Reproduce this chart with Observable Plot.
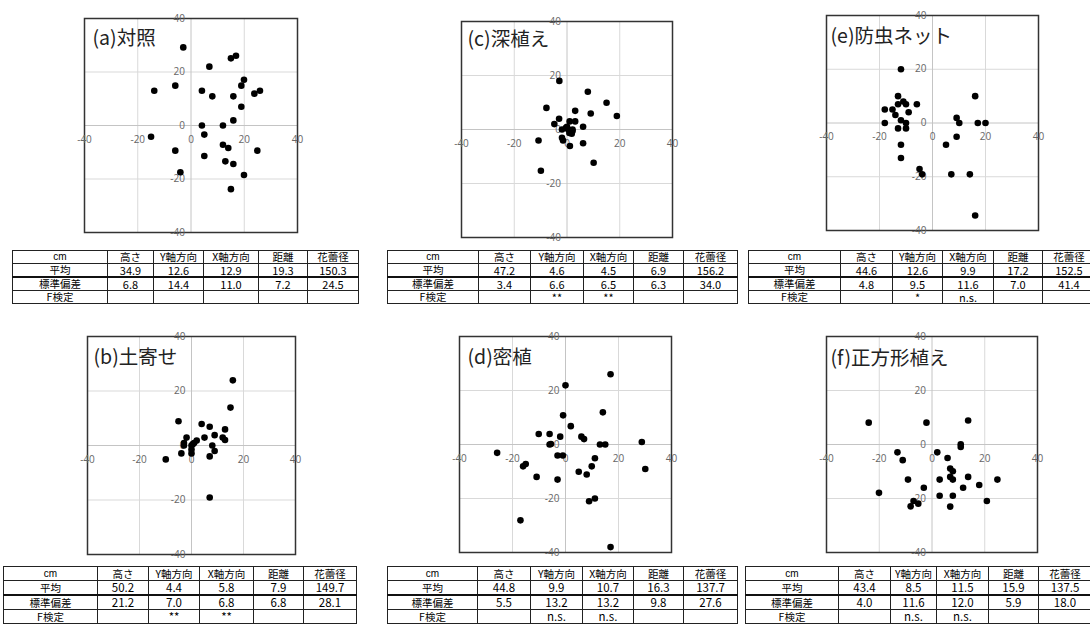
<!DOCTYPE html>
<html><head><meta charset="utf-8">
<script src="https://cdn.jsdelivr.net/npm/d3@7"></script>
<script src="https://cdn.jsdelivr.net/npm/@observablehq/plot@0.6"></script>
<style>
body{margin:0;background:#fff;}
#root{position:relative;width:1090px;height:625px;overflow:hidden;background:#fff;font-family:"Noto Sans CJK JP",sans-serif;}
.panel{position:absolute;}
.panel svg{display:block;overflow:visible;}
table.st{position:absolute;border-collapse:collapse;table-layout:fixed;font-family:"Liberation Sans Narrow","Noto Sans CJK JP",sans-serif;font-size:11px;color:#000;}
table.st td{border:1px solid #222;padding:0;height:12px;line-height:12px;text-align:center;white-space:nowrap;vertical-align:middle;}
table.st.tall td{height:13px;line-height:13px;font-size:11.5px;}
table.st tr.mean td{border-bottom:2px solid #111;}
table.st td.jp{font-family:"Noto Sans CJK JP",sans-serif;font-size:10.5px;}
table.st td.cm{font-family:"Liberation Sans",sans-serif;font-size:10px;}
</style></head><body><div id="root"></div>
<script>
// ---- data ----
const panelTitles = ["(a)対照","(b)土寄せ","(c)深植え","(d)密植","(e)防虫ネット","(f)正方形植え"];
const tickVals = [-40,-20,0,20,40];
const gridVals = [-20,20];

const xA = [-2.9,15,16.9,6.9,19.9,18.9,23.8,25.9,-13.8,-5.9,4.1,8,15.9,18.9,15.9,4.1,12,-15,5,12,14,24.9,-5.9,5,12.9,15.9,-4,19.9,15];
const yA = [29.2,25.1,26.1,22,17.1,14.9,11.9,13,13,14.9,13,10.9,10.9,7,1.9,0,0,-4.2,-3.4,-7.2,-8.4,-9.4,-9.4,-11.4,-13.4,-14.4,-17.5,-18.5,-23.8];

const xB = [15.9,15,-5,3.9,7,12.9,8.9,12,12.9,5,-1.9,2,1,-2.9,-2.9,0,8,0,0,-3.9,8.9,7,-9.9,7,0.5];
const yB = [23.9,13.9,8.9,7.9,6.9,5.9,3.8,2.9,2,2.9,2.9,1.8,0.9,0.9,0,0,0,-1.5,-2.9,-2.9,-2,-4,-5.1,-19.1,0.5];

const xC = [-2.9,7.9,15,-7.8,3.1,9,18.9,-3,-4.8,1,3.1,6.1,0,-1.9,0.5,2.1,0.9,1.8,2.1,-1.9,-1.5,-10.8,1.1,6.1,10.1,-9.9,-0.4];
const yC = [18,14,9.9,8,6.9,5.9,5,4,2,3,3,1,1,0,0,0,-1.3,-1.6,-0.6,-3.1,-4.1,-4.1,-6.1,-5.1,-12.3,-15.3,0.6];

const xD = [17,0,14.1,-0.9,2,-10.1,-6,-2,6,7,-6,-5.5,13,15,28.8,-25.8,-3,-1,11.1,-15,-16,9.9,30.1,5,8,-10.9,-3,11.1,8.9,-17,17];
const yD = [26,21.9,11.9,10.8,6.8,3.9,3.9,2.9,2.9,2,0,0.2,0,0,0.9,-3.1,-4.1,-4.1,-5.1,-7.2,-8.1,-8.1,-9.1,-10.1,-11.1,-12,-13,-20,-21,-28.1,-38];

const xE = [-11.9,16.1,-13,-18,-15.1,-13,-11,-10,-5.9,-9,-14,-11.9,-18,-10,-13,-10,9.1,10.1,17.1,20,9.1,5.1,-11.9,-11.9,-4.9,-3.9,7.1,14.1,16.1];
const yE = [20,10,10,5,5,7,8,7,7,4,3,1,0,0,-2,-2,1.9,0,0,0,-5.1,-8.1,-8.1,-13,-17.1,-19.1,-19.1,-19.1,-34.4];

const xF = [13.7,-24,-2.1,10.9,10.9,2,-13.1,-11.1,5.9,6.9,7.9,6.9,7.9,2.9,-9.1,13.7,24.8,17.9,11.8,-3.1,-20.1,2.9,7.9,20.8,-7,-5.2,-8.1,6.9];
const yF = [8.9,8.1,8.1,0.1,-0.9,-2.9,-2.9,-5.8,-5,-8.9,-9.9,-12,-13,-13,-13,-12,-13,-15,-16,-16,-17.9,-19,-19,-20.9,-20.9,-21.9,-22.9,-23];

const tableCols = ["cm","高さ","Y軸方向","X軸方向","距離","花蕾径"];
const rowLabels = ["平均","標準偏差","F検定"];
const meanA = [34.9,12.6,12.9,19.3,150.3], sdA = [6.8,14.4,11.0,7.2,24.5], fA = ["","","","",""];
const meanB = [50.2,4.4,5.8,7.9,149.7], sdB = [21.2,7.0,6.8,6.8,28.1], fB = ["","**","**","",""];
const meanC = [47.2,4.6,4.5,6.9,156.2], sdC = [3.4,6.6,6.5,6.3,34.0], fC = ["","**","**","",""];
const meanD = [44.8,9.9,10.7,16.3,137.7], sdD = [5.5,13.2,13.2,9.8,27.6], fD = ["","n.s.","n.s.","",""];
const meanE = [44.6,12.6,9.9,17.2,152.5], sdE = [4.8,9.5,11.6,7.0,41.4], fE = ["","*","n.s.","",""];
const meanF = [43.4,8.5,11.5,15.9,137.5], sdF = [4.0,11.6,12.0,5.9,18.0], fF = ["","n.s.","n.s.","",""];

// ---- layout ----
const M = 16;
const panels = [
  {xs:xA, ys:yA, title:panelTitles[0], fx:84,  fy:18,  fw:213, fh:214, tdx:8, tdy:20,
   tbl:{left:12, top:250, tall:false, widths:[95,46,50,55,49,51], mean:meanA, sd:sdA, f:fA}},
  {xs:xB, ys:yB, title:panelTitles[1], fx:87,  fy:336, fw:208, fh:218, tdx:6, tdy:21,
   tbl:{left:3, top:566, tall:true, widths:[94,51,51,54,50,53], mean:meanB, sd:sdB, f:fB}},
  {xs:xC, ys:yC, title:panelTitles[2], fx:461, fy:21,  fw:211, fh:216, tdx:6, tdy:18,
   tbl:{left:387, top:250, tall:false, widths:[91,52,53,50,50,54], mean:meanC, sd:sdC, f:fC}},
  {xs:xD, ys:yD, title:panelTitles[3], fx:459, fy:336, fw:212, fh:216, tdx:8, tdy:21,
   tbl:{left:387, top:566, tall:true, widths:[90,53,52,51,50,54], mean:meanD, sd:sdD, f:fD}},
  {xs:xE, ys:yE, title:panelTitles[4], fx:826, fy:15,  fw:212, fh:215, tdx:4, tdy:21,
   tbl:{left:748, top:250, tall:false, widths:[92,52,50,51,49,53], mean:meanE, sd:sdE, f:fE}},
  {xs:xF, ys:yF, title:panelTitles[5], fx:826, fy:336, fw:211, fh:216, tdx:4, tdy:22,
   tbl:{left:745, top:566, tall:true, widths:[93,52,46,52,50,53], mean:meanF, sd:sdF, f:fF}}
];

const root = document.getElementById("root");

function makePanel(p) {
  const pts = p.xs.map((x, i) => ({x, y: p.ys[i]}));
  const chart = Plot.plot({
    width: p.fw + 2*M, height: p.fh + 2*M, margin: M,
    x: {domain: [-40, 40], axis: null},
    y: {domain: [-40, 40], axis: null},
    style: {background: "transparent", fontFamily: "'Open Sans', sans-serif", fontSize: "10px"},
    marks: [
      Plot.ruleX(gridVals, {stroke: "#d9d9d9", strokeWidth: 1}),
      Plot.ruleY(gridVals, {stroke: "#d9d9d9", strokeWidth: 1}),
      Plot.ruleX([0], {stroke: "#c4c4c4", strokeWidth: 1}),
      Plot.ruleY([0], {stroke: "#c4c4c4", strokeWidth: 1}),
      Plot.frame({stroke: "#333", strokeWidth: 1.5}),
      Plot.text(tickVals, {x: d => d, y: 0, text: d => String(d), dy: 14, fill: "#666", fontSize: 10}),
      Plot.text(tickVals, {x: 0, y: d => d, text: d => String(d), textAnchor: "end", dx: -6, fill: "#666", fontSize: 10}),
      Plot.dot(pts, {x: "x", y: "y", r: 3.3, fill: "#000"}),
      Plot.text([p.title], {frameAnchor: "top-left", text: d => d, dx: p.tdx, dy: p.tdy,
        fontSize: 19.5, textAnchor: "start", lineAnchor: "middle",
        fontFamily: "'Noto Sans CJK JP', sans-serif", fill: "#222"})
    ]
  });
  const div = document.createElement("div");
  div.className = "panel";
  div.style.left = (p.fx - M) + "px";
  div.style.top = (p.fy - M) + "px";
  div.appendChild(chart);
  root.appendChild(div);
}

function makeTable(t) {
  const table = document.createElement("table");
  table.className = "st" + (t.tall ? " tall" : "");
  table.style.left = t.left + "px";
  table.style.top = t.top + "px";
  const total = t.widths.reduce((a, b) => a + b, 0);
  table.style.width = total + "px";
  const cg = document.createElement("colgroup");
  t.widths.forEach(w => { const c = document.createElement("col"); c.style.width = w + "px"; cg.appendChild(c); });
  table.appendChild(cg);
  const rows = [
    {cls: "head", cells: tableCols},
    {cls: "mean", cells: [rowLabels[0], ...t.mean.map(v => v.toFixed(1))]},
    {cls: "sd", cells: [rowLabels[1], ...t.sd.map(v => v.toFixed(1))]},
    {cls: "f", cells: [rowLabels[2], ...t.f]}
  ];
  rows.forEach(r => {
    const tr = document.createElement("tr");
    tr.className = r.cls;
    r.cells.forEach(c => {
      const td = document.createElement("td");
      td.textContent = c;
      if (c === "cm") td.className = "cm";
      else if (/[^\x00-\x7f]/.test(c)) td.className = "jp";
      tr.appendChild(td);
    });
    table.appendChild(tr);
  });
  root.appendChild(table);
}

panels.forEach(p => { makePanel(p); makeTable(p.tbl); });
</script>
</body></html>
